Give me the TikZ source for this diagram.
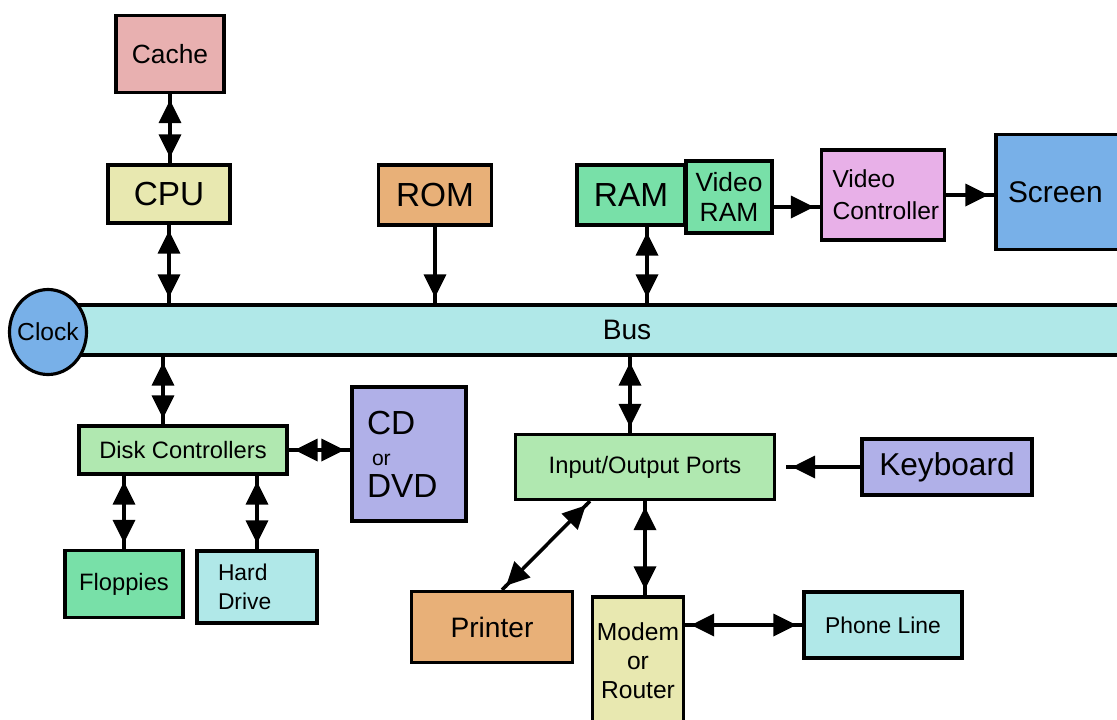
\documentclass[tikz,border=0pt]{standalone}
\usepackage{fontspec}
\setmainfont{Liberation Sans}
\usetikzlibrary{arrows.meta,shapes.geometric}

\definecolor{cachepink}{HTML}{E8B0B0}
\definecolor{paleyellow}{HTML}{E8E8B0}
\definecolor{tan}{HTML}{E8B078}
\definecolor{mint}{HTML}{78E0A8}
\definecolor{orchid}{HTML}{E8B0E8}
\definecolor{skyblue}{HTML}{78B0E8}
\definecolor{palecyan}{HTML}{B0E8E8}
\definecolor{palegreen}{HTML}{B0E8B0}
\definecolor{lavender}{HTML}{B0B0E8}

\begin{document}
\begin{tikzpicture}[x=0.2mm,y=-0.2mm,
    bighead/.tip={Triangle[length=4.6mm,width=4.4mm] Rectangle[length=1.2mm,width=0.7mm]},
    box/.style={draw, line width=1.8pt, inner sep=0pt, align=center},
    link/.style={line width=2pt, bighead-bighead},
    feed/.style={line width=2pt, -bighead}]
  \useasboundingbox (0,0) rectangle (1117,719);
  \clip (0,0) rectangle (1117,719);

  % processor side
  \node[box, fill=cachepink, minimum width=21.6mm, minimum height=15.4mm, font=\fontsize{15}{17}\selectfont] (cache) at (170,54) {Cache};
  \node[box, fill=paleyellow, minimum width=24.4mm, minimum height=11.6mm, font=\fontsize{19}{21}\selectfont] (cpu) at (169,194) {CPU};
  \node[box, fill=tan, minimum width=22.6mm, minimum height=12mm, font=\fontsize{19}{21}\selectfont] (rom) at (435,195) {ROM};
  \node[box, fill=mint, minimum width=21.6mm, minimum height=12mm, font=\fontsize{19}{21}\selectfont] (ram) at (631,195) {RAM};
  \node[box, fill=mint, minimum width=17.2mm, minimum height=14.4mm, font=\fontsize{15}{17}\selectfont] (vram) at (729,197) {Video\\RAM};
  \node[box, fill=orchid, align=left, text width=20.2mm, inner xsep=2.2mm, minimum height=18mm, font=\fontsize{14}{18}\selectfont] (vctrl) at (883,195) {Video\\Controller};
  \node[box, fill=skyblue, align=left, text width=22mm, inner xsep=2.4mm, minimum height=23mm, font=\fontsize{17}{19}\selectfont] (screen) at (1063,192) {Screen};

  % the bus and its clock
  \node[box, fill=palecyan, minimum width=232mm, minimum height=10mm, font=\fontsize{16}{18}\selectfont] (bus) at (627,330) {Bus};
  \node[box, ellipse, inner sep=-1.5mm, fill=skyblue, minimum width=15.4mm, minimum height=17mm, font=\fontsize{14}{16}\selectfont] (clock) at (48,332) {Clock};

  % storage
  \node[box, fill=palegreen, minimum width=41.6mm, minimum height=9.6mm, font=\fontsize{13.5}{15}\selectfont] (disk) at (183,450) {Disk Controllers};
  \node[box, fill=lavender, align=left, text width=16.8mm, inner xsep=3mm, minimum height=26.8mm, font=\fontsize{19}{18}\selectfont] (cd) at (409,454) {CD\\\hspace*{1mm}{\fontsize{12}{12}\selectfont or}\\DVD};
  \node[box, fill=mint, minimum width=23.6mm, minimum height=13.4mm, font=\fontsize{13.5}{15}\selectfont] (floppies) at (124,584) {Floppies};
  \node[box, fill=palecyan, align=left, text width=15.6mm, inner xsep=4.2mm, minimum height=14.4mm, font=\fontsize{13}{16.4}\selectfont] (hdd) at (257,587) {Hard\\Drive};

  % input and output
  \node[box, fill=palegreen, minimum width=51.8mm, minimum height=13mm, font=\fontsize{13.5}{15}\selectfont] (io) at (645,467) {Input/Output Ports};
  \node[box, fill=lavender, minimum width=34mm, minimum height=11.2mm, font=\fontsize{18}{20}\selectfont] (keyboard) at (947,467) {Keyboard};
  \node[box, fill=tan, minimum width=32.2mm, minimum height=14.2mm, font=\fontsize{16}{18}\selectfont] (printer) at (492,627) {Printer};
  \node[box, fill=paleyellow, minimum width=18.2mm, minimum height=25.6mm, font=\fontsize{14}{16.4}\selectfont] (modem) at (638,661) {Modem\\or\\Router};
  \node[box, fill=palecyan, minimum width=31.6mm, minimum height=13.2mm, font=\fontsize{13}{15}\selectfont] (phone) at (883,625) {Phone Line};

  \draw[link] (cache.south) -- (cache.south |- cpu.north);
  \draw[link] (cpu.south) -- (cpu.south |- bus.north);
  \draw[feed] (rom.south) -- (rom.south |- bus.north);
  \draw[link] ([xshift=3.2mm]ram.south) -- ([xshift=3.2mm]ram.south |- bus.north);
  \draw[feed] ([yshift=-2mm]vram.east) -- ([yshift=-2mm]vram.east -| vctrl.west);
  \draw[feed] (vctrl.east) -- (vctrl.east -| screen.west);

  \draw[link] ([xshift=-4mm]disk.north) -- ([xshift=-4mm]disk.north |- bus.south);
  \draw[link] (disk.east) -- (disk.east -| cd.west);
  \draw[link] (floppies.north) -- (floppies.north |- disk.south);
  \draw[link] (hdd.north) -- (hdd.north |- disk.south);

  \draw[link] ([xshift=-3mm]io.north) -- ([xshift=-3mm]io.north |- bus.south);
  \draw[feed] (keyboard.west) -- ([xshift=2mm]io.east);
  \draw[link] ([xshift=-11mm]io.south) -- ([xshift=2mm]printer.north);
  \draw[link] ([xshift=1.4mm]modem.north) -- ([xshift=1.4mm]modem.north |- io.south);
  \draw[link] (modem.east |- phone.west) -- (phone.west);
\end{tikzpicture}
\end{document}
